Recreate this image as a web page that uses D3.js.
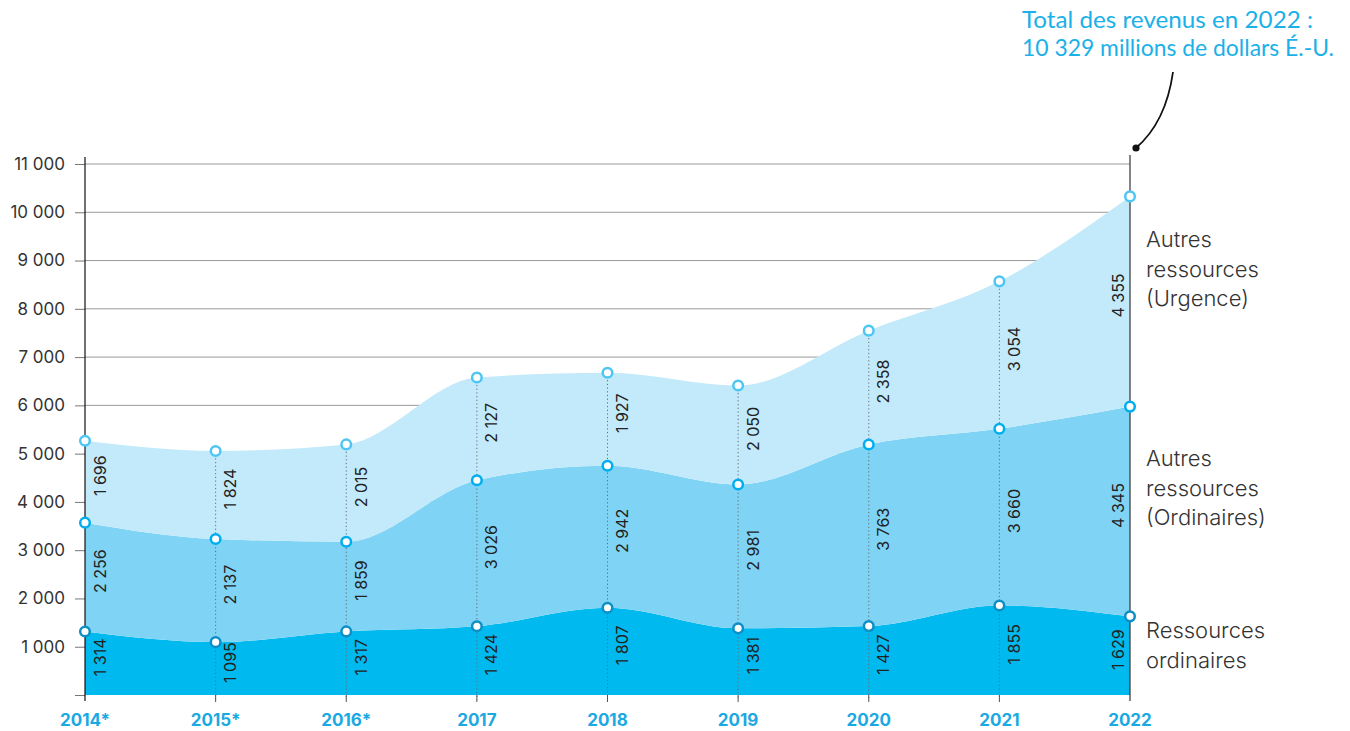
<!DOCTYPE html>
<html><head><meta charset="utf-8">
<script src="https://cdn.jsdelivr.net/npm/d3@7/dist/d3.min.js"></script>
<style>body{margin:0;background:#fff}svg{display:block}</style>
</head><body>
<svg id="c" width="1350" height="731"></svg>
<script>
const years = ["2014*","2015*","2016*","2017","2018","2019","2020","2021","2022"];
const ressourcesOrdinaires = [1314,1095,1317,1424,1807,1381,1427,1855,1629];
const autresOrdinaires = [2256,2137,1859,3026,2942,2981,3763,3660,4345];
const autresUrgence = [1696,1824,2015,2127,1927,2050,2358,3054,4355];
const yTicks = [0,1000,2000,3000,4000,5000,6000,7000,8000,9000,10000,11000];
const seriesNames = [["Ressources","ordinaires"],["Autres","ressources","(Ordinaires)"],["Autres","ressources","(Urgence)"]];
const annotation = ["Total des revenus en 2022 :","10 329 millions de dollars É.-U."];

const sp = v => { const s = String(v); return s.length>3 ? s.slice(0,-3)+" "+s.slice(-3) : s; };
const fmtTick = v => v===0 ? "" : sp(v);
const FONT = "Inter, 'Noto Sans', sans-serif";

const svg = d3.select("#c");
const x = d3.scalePoint().domain(years).range([85,1130]);
const y = d3.scaleLinear().domain([0,11000]).range([695,164]);

const fills = ["#00b9ef","#7fd4f6","#c3eafa"];
const strokes = ["#0b8fc4","#00aeef","#4dc6f3"];

svg.append("g").selectAll("line").data(yTicks.filter(d=>d>0)).join("line")
  .attr("x1",85).attr("x2",1130).attr("y1",d=>y(d)).attr("y2",d=>y(d))
  .attr("stroke","#9a9a9a").attr("stroke-width",1);

const data = years.map((yr,i)=>({yr, a:ressourcesOrdinaires[i], b:autresOrdinaires[i], c:autresUrgence[i]}));
const layers = d3.stack().keys(["a","b","c"])(data);
const area = d3.area().x(d=>x(d.data.yr)).y0(d=>y(d[0])).y1(d=>y(d[1])).curve(d3.curveMonotoneX);
svg.append("g").selectAll("path").data(layers).join("path")
  .attr("d",area).attr("fill",(d,i)=>fills[i]);

svg.append("g").selectAll("line").data(data.slice(1,8)).join("line")
  .attr("x1",d=>x(d.yr)).attr("x2",d=>x(d.yr))
  .attr("y1",d=>y(d.a+d.b+d.c)).attr("y2",700)
  .attr("stroke","#6a6a6a").attr("stroke-width",1).attr("stroke-dasharray","1.2,2.5");

const yAxis = d3.axisLeft(y).tickValues(yTicks).tickFormat(fmtTick).tickSize(10).tickPadding(10);
const ga = svg.append("g").attr("transform","translate(85,0)").call(yAxis);
ga.select(".domain").remove();
ga.selectAll(".tick line").attr("stroke","#777");
ga.selectAll(".tick text").attr("font-family",FONT).attr("font-size",17).attr("fill","#333");
svg.append("line").attr("x1",85).attr("x2",85).attr("y1",157).attr("y2",701).attr("stroke","#111").attr("stroke-width",1.2);
svg.append("line").attr("x1",1130).attr("x2",1130).attr("y1",155).attr("y2",701).attr("stroke","#333").attr("stroke-width",1.2);
svg.append("g").selectAll("line").data(years.slice(1,8)).join("line")
  .attr("x1",d=>x(d)).attr("x2",d=>x(d)).attr("y1",695).attr("y2",702).attr("stroke","#555");

svg.append("g").selectAll("text").data(years).join("text")
  .attr("x",d=>x(d)).attr("y",726).attr("text-anchor","middle")
  .attr("font-family",FONT).attr("font-weight","bold").attr("font-size",17)
  .attr("fill","#1aa9e2").text(d=>d);

const labelG = svg.append("g");
layers.forEach((layer)=>{
  layer.forEach((d,i)=>{
    const cx = x(d.data.yr);
    const isLast = i===years.length-1;
    const lx = isLast ? cx-12 : cx+15;
    const ly = (y(d[0])+y(d[1]))/2 - 6;
    labelG.append("text")
      .attr("transform",`translate(${lx},${ly}) rotate(-90)`)
      .attr("text-anchor","middle").attr("dy","0.35em")
      .attr("font-family",FONT).attr("font-size",16).attr("fill","#222")
      .text(sp(d[1]-d[0]));
  });
});

layers.forEach((layer,li)=>{
  svg.append("g").selectAll("circle").data(layer).join("circle")
    .attr("cx",d=>x(d.data.yr)).attr("cy",d=>y(d[1])).attr("r",4.8)
    .attr("fill","#fff").attr("stroke",strokes[li]).attr("stroke-width",2.5);
});

const labelY = [638,466,247];
seriesNames.forEach((lines,i)=>{
  const t = svg.append("text")
    .attr("font-family",FONT).attr("font-size",22).attr("font-weight",300).attr("fill","#333");
  lines.forEach((l,j)=>t.append("tspan").attr("x",1146).attr("y",labelY[i]+j*29.5).text(l));
});

const annLen = [291,312];
annotation.forEach((l,j)=>svg.append("text").attr("x",1022).attr("y",28+j*28)
  .attr("font-family","Lato, 'Noto Sans', sans-serif").attr("font-size",23).attr("fill","#1ab0e8")
  .attr("textLength",annLen[j]).attr("lengthAdjust","spacingAndGlyphs").text(l));
svg.append("path").attr("d","M1136,148 Q1166,122 1173,72").attr("fill","none").attr("stroke","#111").attr("stroke-width",1.8);
svg.append("circle").attr("cx",1136).attr("cy",148).attr("r",3.6).attr("fill","#111");
</script>
</body></html>
